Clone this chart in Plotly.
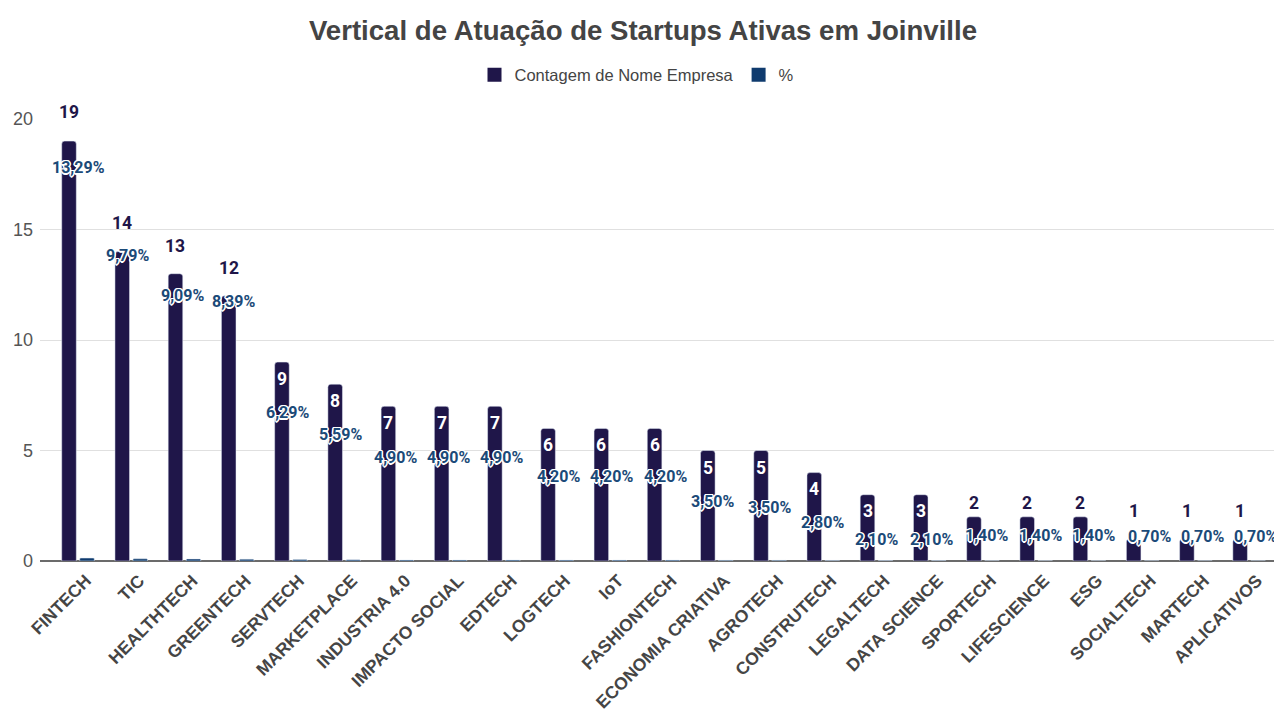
import plotly.graph_objects as go

# ---------------- data ----------------
categories = ["FINTECH", "TIC", "HEALTHTECH", "GREENTECH", "SERVTECH", "MARKETPLACE",
              "INDUSTRIA 4.0", "IMPACTO SOCIAL", "EDTECH", "LOGTECH", "IoT", "FASHIONTECH",
              "ECONOMIA CRIATIVA", "AGROTECH", "CONSTRUTECH", "LEGALTECH", "DATA SCIENCE",
              "SPORTECH", "LIFESCIENCE", "ESG", "SOCIALTECH", "MARTECH", "APLICATIVOS"]
counts = [19, 14, 13, 12, 9, 8, 7, 7, 7, 6, 6, 6, 5, 5, 4, 3, 3, 2, 2, 2, 1, 1, 1]
percent = [0.1329, 0.0979, 0.0909, 0.0839, 0.0629, 0.0559, 0.0490, 0.0490, 0.0490,
           0.0420, 0.0420, 0.0420, 0.0350, 0.0350, 0.0280, 0.0210, 0.0210, 0.0140,
           0.0140, 0.0140, 0.0070, 0.0070, 0.0070]
y_ticks = [0, 5, 10, 15, 20]

# ---------------- label layout (styling, pixels) ----------------
count_inside = [False] * 4 + [True] * 13 + [False] * 6
count_dy = [29, 29, 28, 28, -17, -17, -17, -17, -17, -17, -17, -17, -17, -17, -16,
            -16, -16, 14, 14, 14, 28, 28, 28]
pct_dy = [-26, -4, -22, -6, -50, -50, -51, -51, -51, -48, -48, -48, -51, -57, -50,
          -45, -45, -19, -19, -19, 2, 2, 2]
pct_dx = [0, -4, -2, -4, -3, -4, -2, -2, -2, 1, 1, 2, -4, -1, -1, 0, 2, 4, 4, 4, 7, 7, 6]

COUNT_COLOR = "#1f1649"
PCT_COLOR = "#0f3b6e"
PCT_TEXT = "#1b4a78"
BARGAP = 0.324
GROUPGAP = 0.19
FONT = "Liberation Sans, Arial"

# The page body adds an 8px margin; the figure is sized to fill the rest of the window.
W, H = 1274, 712

fig = go.Figure()
fig.add_trace(go.Bar(name="Contagem de Nome Empresa", x=categories, y=counts,
                     marker=dict(color=COUNT_COLOR, cornerradius=3), showlegend=False))
fig.add_trace(go.Bar(name="%", x=categories, y=percent,
                     marker=dict(color=PCT_COLOR, cornerradius=1), showlegend=False))
# legend entries drawn as squares
for name, col in [("Contagem de Nome Empresa", COUNT_COLOR), ("%", PCT_COLOR)]:
    fig.add_trace(go.Scatter(name=name, x=[None], y=[None], mode="markers",
                             marker=dict(symbol="square", size=14, color=col),
                             showlegend=True))

slot = (1 - BARGAP) / 4  # offset of each bar centre from category centre (category units)
shadow = ("1px 1px 0 #fff, -1px -1px 0 #fff, 1px -1px 0 #fff, -1px 1px 0 #fff, "
          "0 1.5px 0 #fff, 0 -1.5px 0 #fff, 1.5px 0 0 #fff, -1.5px 0 0 #fff")

annotations = []
for i, (c, p) in enumerate(zip(counts, percent)):
    annotations.append(dict(
        x=i - slot, y=c, xref="x", yref="y", text=str(c), showarrow=False,
        yshift=count_dy[i], yanchor="middle", xanchor="center",
        font=dict(family="Roboto", size=17.5, weight="bold",
                  color="#ffffff" if count_inside[i] else COUNT_COLOR)))
    annotations.append(dict(
        x=i, y=c, xref="x", yref="y",
        text=f"{p * 100:.2f}%".replace(".", ","), showarrow=False,
        yshift=pct_dy[i], xshift=pct_dx[i], yanchor="middle", xanchor="center",
        font=dict(family="Roboto", size=16, weight="bold", color=PCT_TEXT,
                  shadow=shadow)))

fig.update_layout(
    width=W, height=H,
    margin=dict(l=32, r=2, t=111, b=159, autoexpand=False),
    paper_bgcolor="white", plot_bgcolor="white",
    barmode="group", bargap=BARGAP, bargroupgap=GROUPGAP,
    title=dict(text="Vertical de Atuação de Startups Ativas em Joinville",
               x=(643 - 8) / W, xanchor="center", y=1 - 22 / H, yanchor="middle",
               font=dict(family=FONT, size=27.6, weight="bold", color="#444444")),
    legend=dict(orientation="h", x=0.5 - 23 / 1240, xanchor="center", y=1 + 44 / 442,
                yanchor="middle", itemwidth=30,
                font=dict(family=FONT, size=16.5, color="#444444")),
    xaxis=dict(type="category", range=[-0.714, 22.58], tickangle=-45,
               tickfont=dict(family=FONT, size=17.5, weight="bold", color="#454545"),
               showgrid=False, showline=False, ticks="",
               ticklabelshift=8, ticklabelstandoff=5),
    yaxis=dict(range=[0, 20], tickvals=y_ticks,
               tickfont=dict(family=FONT, size=18, color="#555555"),
               gridcolor="#e0e0e0", gridwidth=1, zeroline=True, zerolinecolor="#6b6b6b",
               zerolinewidth=1.5, showline=False, ticks="", ticklabelstandoff=6),
    annotations=annotations,
    showlegend=True,
)

fig.write_html("out.html")
